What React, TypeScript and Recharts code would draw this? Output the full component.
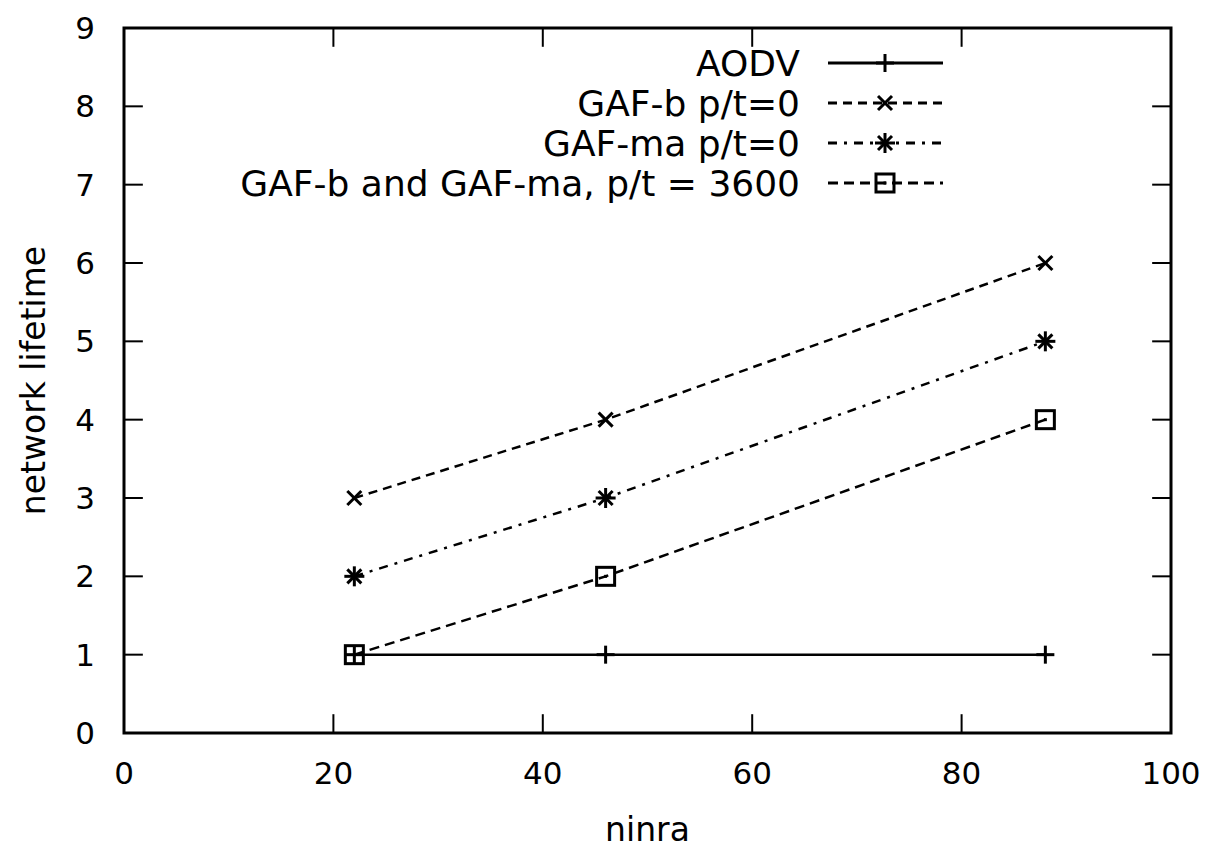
import React from 'react';
import { LineChart, Line, XAxis, YAxis, ReferenceLine, ReferenceArea } from 'recharts';

const nodeCounts = [22, 46, 88];
const aodvLifetime = [1, 1, 1];
const gafBLifetime = [3, 4, 6];
const gafMaLifetime = [2, 3, 5];
const gafBothLifetime = [1, 2, 4];
const xTicks = [0, 20, 40, 60, 80, 100];
const yTicks = [0, 1, 2, 3, 4, 5, 6, 7, 8, 9];

const seriesNames = ['AODV', 'GAF-b p/t=0', 'GAF-ma p/t=0', 'GAF-b and GAF-ma, p/t = 3600'];

const data = nodeCounts.map((x, i) => ({
  x,
  aodv: aodvLifetime[i],
  gafB: gafBLifetime[i],
  gafMa: gafMaLifetime[i],
  gafBoth: gafBothLifetime[i],
}));

const FONT = '"DejaVu Sans", sans-serif';
const INK = '#000';

type MarkerKind = 'plus' | 'cross' | 'star' | 'square';

const Marker = ({ cx, cy, kind }: { cx: number; cy: number; kind: MarkerKind }) => {
  if (cx == null || cy == null) return null;
  const sw = 3;
  if (kind === 'plus') {
    const r = 9;
    return (
      <g stroke={INK} strokeWidth={sw}>
        <line x1={cx - r} y1={cy} x2={cx + r} y2={cy} />
        <line x1={cx} y1={cy - r} x2={cx} y2={cy + r} />
      </g>
    );
  }
  if (kind === 'cross') {
    const r = 7;
    return (
      <g stroke={INK} strokeWidth={sw}>
        <line x1={cx - r} y1={cy - r} x2={cx + r} y2={cy + r} />
        <line x1={cx - r} y1={cy + r} x2={cx + r} y2={cy - r} />
      </g>
    );
  }
  if (kind === 'star') {
    const r = 10;
    const d = 7;
    return (
      <g stroke={INK} strokeWidth={sw}>
        <line x1={cx - r} y1={cy} x2={cx + r} y2={cy} />
        <line x1={cx} y1={cy - r} x2={cx} y2={cy + r} />
        <line x1={cx - d} y1={cy - d} x2={cx + d} y2={cy + d} />
        <line x1={cx - d} y1={cy + d} x2={cx + d} y2={cy - d} />
      </g>
    );
  }
  const r = 9;
  return (
    <g>
      <rect x={cx - r} y={cy - r} width={2 * r} height={2 * r} fill="none" stroke={INK} strokeWidth={sw} />
      <rect x={cx - 1.5} y={cy - 1.5} width={3} height={3} fill={INK} />
    </g>
  );
};

const seriesDefs: { key: string; name: string; dash?: string; marker: MarkerKind }[] = [
  { key: 'aodv', name: seriesNames[0], dash: undefined, marker: 'plus' },
  { key: 'gafB', name: seriesNames[1], dash: '9 6', marker: 'cross' },
  { key: 'gafMa', name: seriesNames[2], dash: '9 7 3 7', marker: 'star' },
  { key: 'gafBoth', name: seriesNames[3], dash: '10 6', marker: 'square' },
];

const LegendBox = () => (
  <svg width={1206} height={220} style={{ display: 'block', position: 'absolute', left: 0, top: 0, pointerEvents: 'none' }}>
    {seriesDefs.map((s, i) => {
      const cy = 63 + i * 40;
      return (
        <g key={s.key}>
          <text x={800} y={cy} textAnchor="end" dominantBaseline="central" fontFamily={FONT} fontSize={36} fill={INK}>
            {s.name}
          </text>
          <line x1={828} y1={cy} x2={943} y2={cy} stroke={INK} strokeWidth={3} strokeDasharray={s.dash} />
          <Marker cx={885} cy={cy} kind={s.marker} />
        </g>
      );
    })}
  </svg>
);

const TICK_LEN_X = 0.24; // in y units (vertical tick on x axis)
const TICK_LEN_Y = 1.8; // in x units (horizontal tick on y axis)

export default function App() {
  return (
    <div style={{ position: 'absolute', left: 0, top: 0, width: 1206, height: 848, background: '#fff' }}>
      <LineChart
        width={1206}
        height={848}
        data={data}
        margin={{ top: 28, right: 35, bottom: 0, left: 0 }}
      >
        <XAxis
          type="number"
          dataKey="x"
          domain={[0, 100]}
          ticks={xTicks}
          height={115}
          axisLine={false}
          tickLine={false}
          tickSize={0}
          tickMargin={0}
          interval={0}
          tick={(p: any) => (
            <text key={`xt-${p.payload.value}`} x={p.x} y={p.y} textAnchor="middle" dominantBaseline="central" dy={40} fontFamily={FONT} fontSize={31} fill={INK}>
              {p.payload.value}
            </text>
          )}
          label={(p: any) => {
            const vb = p.viewBox || {};
            return (
              <text x={vb.x + vb.width / 2} y={vb.y + 96} textAnchor="middle" dominantBaseline="central" fontFamily={FONT} fontSize={33} fill={INK}>
                ninra
              </text>
            );
          }}
        />
        <YAxis
          type="number"
          domain={[0, 9]}
          ticks={yTicks}
          width={124}
          axisLine={false}
          tickLine={false}
          tickSize={0}
          tickMargin={0}
          interval={0}
          tick={(p: any) => (
            <text key={`yt-${p.payload.value}`} x={p.x} y={p.y} textAnchor="end" dominantBaseline="central" dx={-29} fontFamily={FONT} fontSize={31} fill={INK}>
              {p.payload.value}
            </text>
          )}
          label={(p: any) => {
            const vb = p.viewBox || {};
            const cx = 33;
            const cy = vb.y + vb.height / 2;
            return (
              <text x={cx} y={cy} transform={`rotate(-90 ${cx} ${cy})`} textAnchor="middle" dominantBaseline="central" fontFamily={FONT} fontSize={33} fill={INK}>
                network lifetime
              </text>
            );
          }}
        />
        <ReferenceArea x1={0} x2={100} y1={0} y2={9} fill="none" stroke={INK} strokeWidth={3} ifOverflow="visible" />
        {xTicks.map((t) => (
          <ReferenceLine key={`xb${t}`} segment={[{ x: t, y: 0 }, { x: t, y: TICK_LEN_X }]} stroke={INK} strokeWidth={2} ifOverflow="visible" />
        ))}
        {xTicks.map((t) => (
          <ReferenceLine key={`xt${t}`} segment={[{ x: t, y: 9 }, { x: t, y: 9 - TICK_LEN_X }]} stroke={INK} strokeWidth={2} ifOverflow="visible" />
        ))}
        {yTicks.map((t) => (
          <ReferenceLine key={`yl${t}`} segment={[{ x: 0, y: t }, { x: TICK_LEN_Y, y: t }]} stroke={INK} strokeWidth={2} ifOverflow="visible" />
        ))}
        {yTicks.map((t) => (
          <ReferenceLine key={`yr${t}`} segment={[{ x: 100, y: t }, { x: 100 - TICK_LEN_Y, y: t }]} stroke={INK} strokeWidth={2} ifOverflow="visible" />
        ))}
        {seriesDefs.map((s) => (
          <Line
            key={s.key}
            type="linear"
            dataKey={s.key}
            name={s.name}
            stroke={INK}
            strokeWidth={2.5}
            strokeDasharray={s.dash}
            isAnimationActive={false}
            activeDot={false}
            dot={(p: any) => <Marker key={`${s.key}-${p.index}`} cx={p.cx} cy={p.cy} kind={s.marker} />}
          />
        ))}
      </LineChart>
      <LegendBox />
    </div>
  );
}
